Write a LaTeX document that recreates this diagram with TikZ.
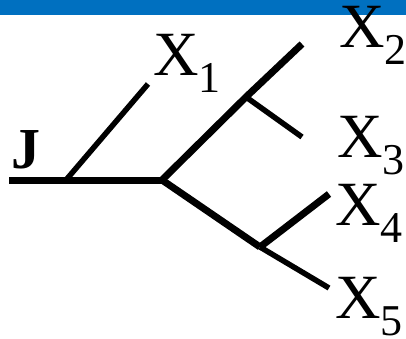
\documentclass[tikz,border=0pt]{standalone}
\usepackage{fontspec}
\font\xbig="Liberation Serif" at 63pt
\font\xsub="Liberation Serif" at 44pt
\font\jbig="Liberation Serif/B" at 58pt
\definecolor{barblue}{RGB}{0,112,192}
\tikzset{
  thick branch/.style={line width=7pt, black},
  thin branch/.style={line width=5.5pt, black},
  lab/.style={anchor=base west, inner sep=0pt, outer sep=0pt},
}
\newcommand{\xlab}[1]{\xbig X\raisebox{-17pt}{\xsub #1}}
\begin{document}
\begin{tikzpicture}[x=1pt,y=-1pt]
\useasboundingbox (0,0) rectangle (406,338);
\fill[barblue] (0,0) rectangle (406,15);
% coordinates
\coordinate (L) at (9,180);
\coordinate (a) at (66,180);
\coordinate (b) at (162,180);
\coordinate (e1) at (148,84);
\coordinate (c) at (246,97);
\coordinate (e2) at (302,44);
\coordinate (e3) at (302,137);
\coordinate (d) at (260,247);
\coordinate (e4) at (329,194);
\coordinate (e5) at (329,288);
% branches
\draw[thick branch] (L) -- (b);
\draw[thin branch] (a) -- (e1);
\draw[thick branch] (b) -- (c) -- (e2);
\draw[thin branch] (c) -- (e3);
\draw[thick branch] (b) -- (d);
\draw[thick branch] (d) -- (e4);
\draw[thin branch] (d) -- (e5);
% labels
\node[lab] (J) at (12,168) {\jbig J};
\node[lab] (x1) at (153,75) {\xlab{1}};
\node[lab] (x2) at (339,47) {\xlab{2}};
\node[lab] (x3) at (337,157) {\xlab{3}};
\node[lab] (x4) at (335,225) {\xlab{4}};
\node[lab] (x5) at (335,318) {\xlab{5}};
\end{tikzpicture}
\end{document}
